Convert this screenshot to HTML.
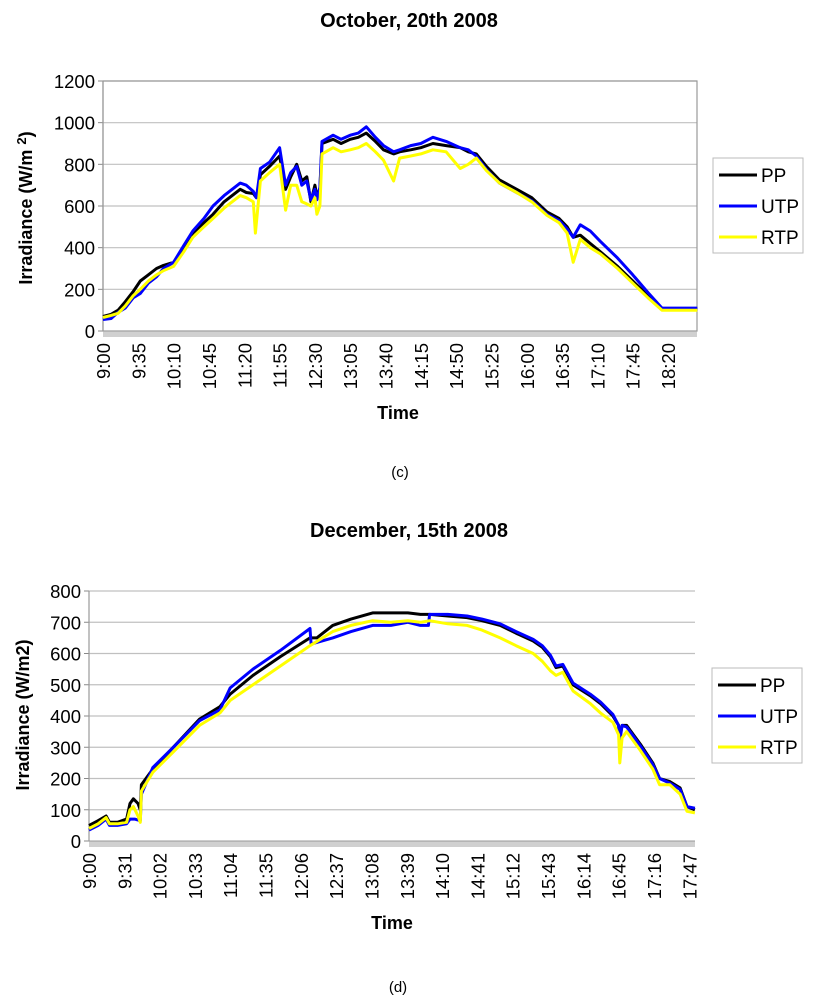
<!DOCTYPE html>
<html><head><meta charset="utf-8"><style>
body{margin:0;background:#fff;}
svg text{font-family:"Liberation Sans",Arial,sans-serif;}
</style></head><body>
<svg id="svg" width="818" height="1000" xmlns="http://www.w3.org/2000/svg">
<text x="409" y="27" text-anchor="middle" font-size="20" font-weight="bold">October, 20th 2008</text>
<text x="409" y="537" text-anchor="middle" font-size="20" font-weight="bold">December, 15th 2008</text>
<text x="400" y="477" text-anchor="middle" font-size="15">(c)</text>
<text x="398" y="992" text-anchor="middle" font-size="15">(d)</text>
</svg>
<script>
// Chart C (October 20th 2008): [minutes after 9:00, W/m2]
const cTicksY = [0,200,400,600,800,1000,1200];
const cTicksX = ["9:00","9:35","10:10","10:45","11:20","11:55","12:30","13:05","13:40","14:15","14:50","15:25","16:00","16:35","17:10","17:45","18:20"];
const cPP = [[0,70],[8,80],[15,100],[22,140],[30,190],[37,240],[45,270],[53,300],[60,315],[70,330],[80,400],[89,470],[100,520],[109,560],[120,620],[136,680],[142,665],[149,660],[152,640],[156,750],[165,790],[175,840],[181,680],[186,740],[192,800],[197,720],[202,740],[206,620],[210,700],[212,650],[215,680],[217,900],[228,920],[236,900],[245,920],[253,930],[261,950],[270,910],[278,870],[288,850],[294,860],[305,870],[315,880],[327,900],[340,890],[354,880],[362,860],[370,850],[380,790],[393,725],[410,680],[425,640],[440,571],[452,540],[460,500],[466,450],[473,460],[483,420],[493,380],[510,310],[525,240],[540,170],[554,105],[570,105],[589,105]];
const cUTP = [[0,55],[8,60],[15,90],[22,110],[30,160],[37,180],[45,230],[53,260],[60,300],[70,330],[80,410],[89,480],[100,540],[109,600],[120,650],[136,710],[142,700],[149,670],[152,640],[156,780],[165,810],[175,880],[181,700],[186,760],[192,790],[197,700],[202,720],[206,630],[210,680],[212,630],[215,690],[217,910],[228,940],[236,920],[245,940],[253,950],[261,980],[270,930],[278,890],[288,860],[294,870],[305,890],[315,900],[327,930],[340,910],[354,880],[362,870],[370,840],[380,775],[393,710],[410,665],[425,625],[440,560],[452,530],[460,490],[466,450],[473,510],[483,480],[493,430],[510,350],[525,270],[540,185],[554,110],[570,110],[589,110]];
const cRTP = [[0,65],[8,75],[15,85],[22,120],[30,170],[37,200],[45,240],[53,270],[60,290],[70,310],[80,380],[89,450],[100,500],[109,540],[120,590],[136,650],[142,640],[149,620],[151,470],[156,720],[165,760],[175,800],[181,580],[186,700],[192,700],[197,620],[202,610],[206,600],[210,640],[212,560],[215,600],[217,850],[228,880],[236,860],[245,870],[253,880],[261,900],[270,860],[278,820],[288,720],[294,830],[305,840],[315,850],[327,870],[340,860],[354,780],[362,800],[370,830],[380,770],[393,710],[410,665],[425,620],[440,555],[452,520],[460,470],[466,330],[473,440],[483,400],[493,370],[510,300],[525,230],[540,160],[554,100],[570,100],[589,100]];
// Chart D (December 15th 2008)
const dTicksY = [0,100,200,300,400,500,600,700,800];
const dTicksX = ["9:00","9:31","10:02","10:33","11:04","11:35","12:06","12:37","13:08","13:39","14:10","14:41","15:12","15:43","16:14","16:45","17:16","17:47"];
const dPP = [[0,50],[8,65],[15,80],[18,60],[25,60],[33,70],[36,120],[39,135],[43,120],[45,100],[46,180],[56,230],[74,300],[97,390],[115,430],[124,470],[144,530],[168,590],[194,650],[200,650],[214,690],[230,710],[249,730],[265,730],[280,730],[291,725],[299,725],[315,720],[332,715],[345,705],[361,690],[375,665],[390,640],[398,620],[405,590],[410,555],[416,560],[425,500],[440,465],[449,440],[460,400],[465,370],[466,330],[468,370],[472,370],[484,310],[495,250],[501,200],[510,190],[519,170],[525,110],[532,100]];
const dUTP = [[0,35],[8,50],[15,70],[18,50],[25,50],[33,55],[36,70],[40,70],[45,65],[46,150],[56,235],[74,300],[97,385],[115,420],[124,490],[144,550],[168,610],[194,680],[195,630],[214,650],[230,670],[249,690],[265,690],[280,700],[291,690],[298,690],[299,725],[315,725],[332,720],[345,710],[361,695],[375,670],[390,645],[398,625],[405,595],[410,560],[416,565],[425,505],[440,470],[449,445],[460,405],[465,370],[466,320],[468,370],[472,365],[484,305],[495,245],[501,200],[510,185],[519,165],[525,110],[532,105]];
const dRTP = [[0,40],[8,55],[15,75],[18,55],[25,55],[33,60],[36,100],[39,110],[43,80],[45,60],[46,160],[56,220],[74,285],[97,370],[115,410],[124,450],[144,500],[168,560],[194,625],[214,670],[230,690],[249,705],[265,700],[280,705],[291,700],[299,705],[315,695],[332,690],[345,675],[361,650],[375,625],[390,600],[398,575],[405,545],[410,530],[416,540],[425,480],[440,440],[449,410],[460,380],[465,340],[466,250],[468,330],[472,350],[484,290],[495,230],[501,180],[510,180],[519,150],[525,95],[532,90]];

const NS="http://www.w3.org/2000/svg";
const svg=document.getElementById('svg');
function el(tag,attrs,parent){const e=document.createElementNS(NS,tag);for(const k in attrs)e.setAttribute(k,attrs[k]);(parent||svg).appendChild(e);return e;}

function drawChart(cfg){
  const g=el('g',{});
  
  
  const xS=m=>cfg.x0+m*cfg.pxPerMin;
  const yS=v=>cfg.yBottom-(v/cfg.yMax)*(cfg.yBottom-cfg.yTop);
  cfg.ticksY.forEach(t=>{
    const y=yS(t);
    if(t>0){const l=el('line',{x1:cfg.x0,x2:cfg.xRight,y1:y,y2:y,stroke:'#c0c0c0','stroke-width':1.2},g);
      
      }
    el('line',{x1:cfg.x0-5,x2:cfg.x0,y1:y,y2:y,stroke:'#888','stroke-width':1},g);
    const tx=el('text',{x:cfg.x0-8,y:y+7,'text-anchor':'end','font-size':18.5},g);
    tx.textContent=t;
    
    
  });
  if(cfg.border){const r=el('rect',{x:cfg.x0,y:cfg.yTop,width:cfg.xRight-cfg.x0,height:cfg.yBottom-cfg.yTop,fill:'none',stroke:'#999','stroke-width':1.2},g);
    
    }
  el('line',{x1:cfg.x0,x2:cfg.x0,y1:cfg.yTop,y2:cfg.yBottom,stroke:'#999','stroke-width':1.2},g);
  const hatch=el('rect',{x:cfg.x0,y:cfg.yBottom,width:cfg.xRight-cfg.x0,height:6,fill:'#d0d0d0'},g);
  
  
  el('line',{x1:cfg.x0,x2:cfg.xRight,y1:cfg.yBottom,y2:cfg.yBottom,stroke:'#999','stroke-width':1},g);
  cfg.ticksX.forEach((lab,i)=>{
    const x=xS(i*cfg.labelStep);
    const tx=el('text',{x:0,y:0,'text-anchor':'end','font-size':18.5,transform:`translate(${x+7},${cfg.yBottom+12}) rotate(-90)`},g);
    tx.textContent=lab;
    
    
  });
  const cols=['#000000','#0000ff','#ffff00'];
  cfg.series.forEach((s,i)=>{
    const p=el('polyline',{points:s.map(d=>xS(d[0]).toFixed(1)+','+yS(d[1]).toFixed(1)).join(' '),fill:'none',stroke:cols[i],'stroke-width':3,'stroke-linejoin':'round'},g);
    
    
  });
  const yt=el('text',{x:0,y:0,'text-anchor':'middle','font-size':18,'font-weight':'bold',transform:`translate(${cfg.yTitleX},${cfg.yTitleY}) rotate(-90)`},g);
  yt.innerHTML=cfg.yTitle;
  
  
  const xt=el('text',{x:cfg.timeX,y:cfg.timeY,'text-anchor':'middle','font-size':18,'font-weight':'bold'},g);
  xt.textContent='Time';
  
  
  const lg=el('g',{},g);
  
  
  el('rect',{x:cfg.lx,y:cfg.ly,width:90,height:95,fill:'#fff',stroke:'#bbb','stroke-width':1},lg);
  cfg.names.forEach((n,i)=>{
    const y=cfg.ly+17+i*31;
    el('line',{x1:cfg.lx+6,x2:cfg.lx+44,y1:y,y2:y,stroke:cols[i],'stroke-width':3},lg);
    const t=el('text',{x:cfg.lx+48,y:y+7,'font-size':19},lg);
    t.textContent=n;
    
    
  });
}
drawChart({id:'chart-c',x0:103,xRight:697,yTop:81,yBottom:331,yMax:1200,pxPerMin:1.009,labelStep:35,ticksY:cTicksY,ticksX:cTicksX,series:[cPP,cUTP,cRTP],names:['PP','UTP','RTP'],border:true,yTitle:'Irradiance (W/m <tspan dy="-6" font-size="13">2</tspan><tspan dy="6">)</tspan>',yTitleX:32,yTitleY:208,timeX:398,timeY:419,lx:713,ly:158});
drawChart({id:'chart-d',x0:89,xRight:695,yTop:591,yBottom:841,yMax:800,pxPerMin:1.139,labelStep:31,ticksY:dTicksY,ticksX:dTicksX,series:[dPP,dUTP,dRTP],names:['PP','UTP','RTP'],border:false,yTitle:'Irradiance (W/m2)',yTitleX:29,yTitleY:715,timeX:392,timeY:929,lx:712,ly:668});
</script>
</body></html>
